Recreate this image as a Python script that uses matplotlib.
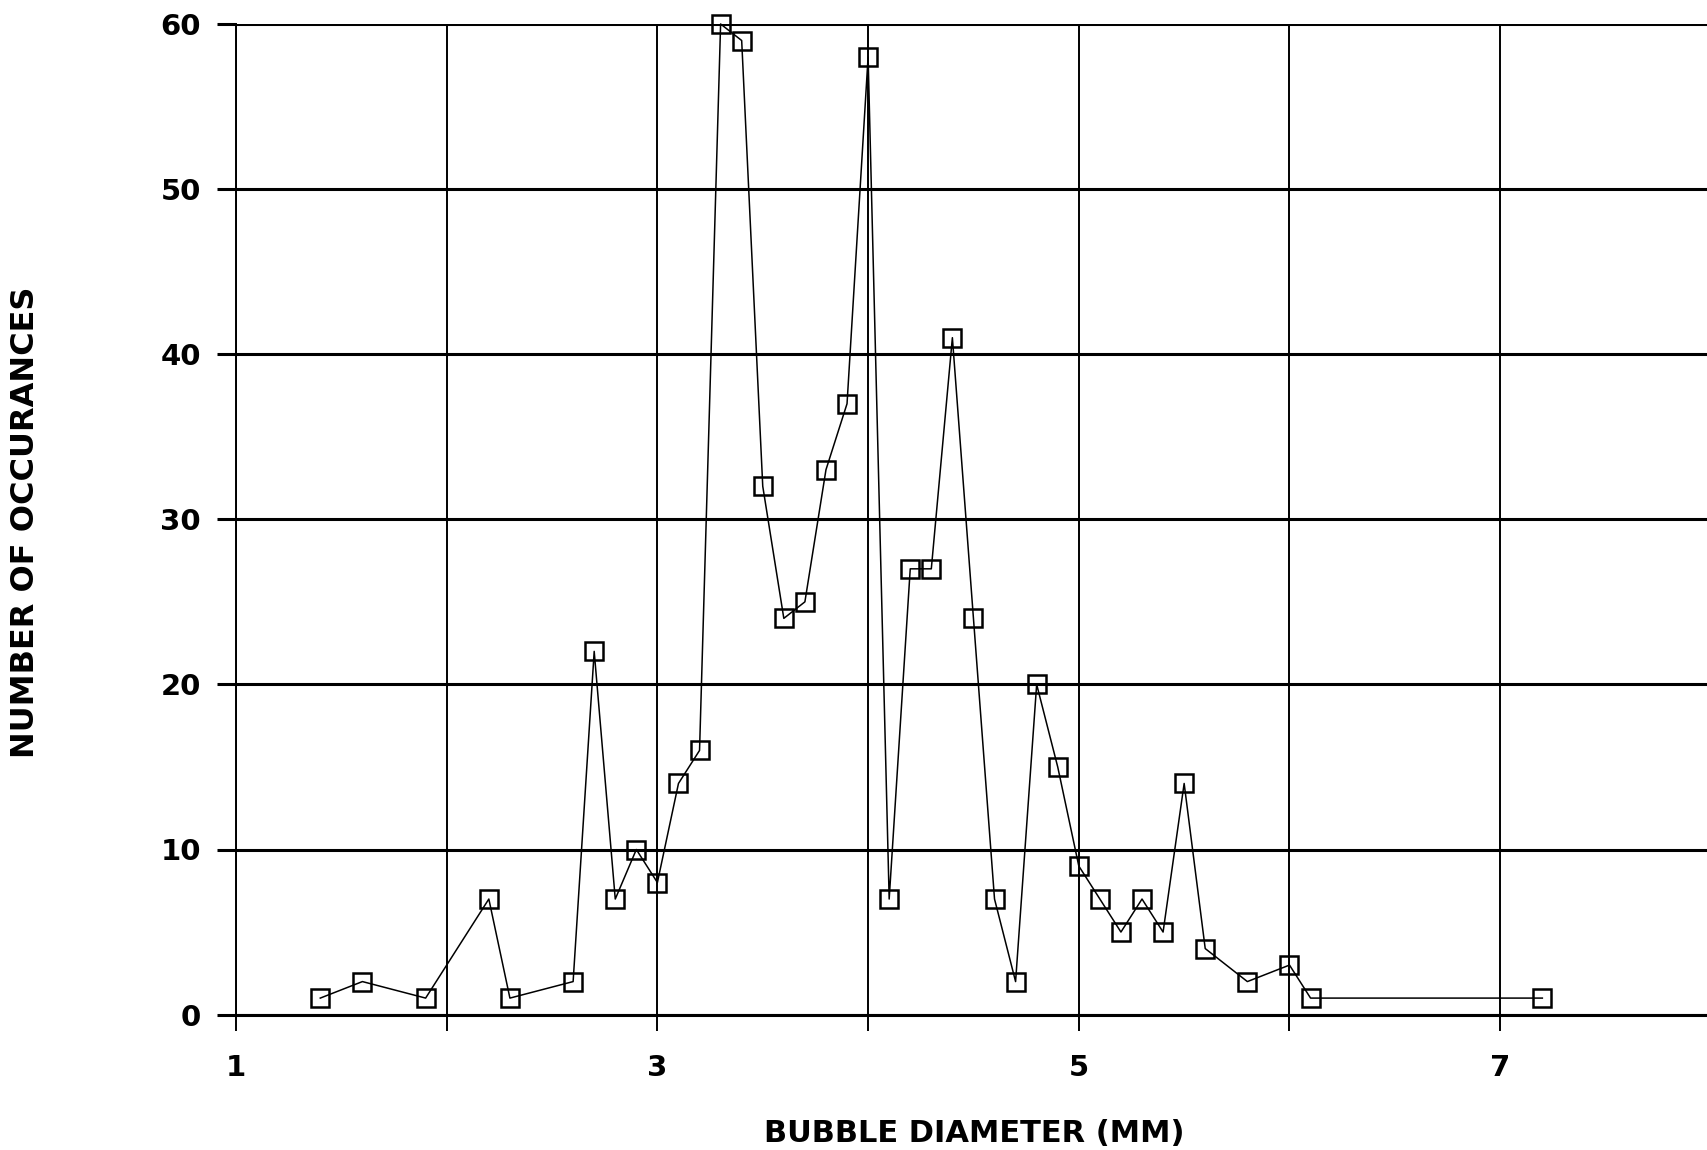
import matplotlib
matplotlib.use("Agg")
import matplotlib.pyplot as plt
from matplotlib.ticker import MultipleLocator, FixedLocator

# Bubble size distribution
diameter_mm = [1.4, 1.6, 1.9, 2.2, 2.3, 2.6, 2.7, 2.8, 2.9, 3.0,
               3.1, 3.2, 3.3, 3.4, 3.5, 3.6, 3.7, 3.8, 3.9, 4.0,
               4.1, 4.2, 4.3, 4.4, 4.5, 4.6, 4.7, 4.8, 4.9, 5.0,
               5.1, 5.2, 5.3, 5.4, 5.5, 5.6, 5.8, 6.0, 6.1, 7.2]
occurrences = [1, 2, 1, 7, 1, 2, 22, 7, 10, 8,
               14, 16, 60, 59, 32, 24, 25, 33, 37, 58,
               7, 27, 27, 41, 24, 7, 2, 20, 15, 9,
               7, 5, 7, 5, 14, 4, 2, 3, 1, 1]

x_tick_values = [1, 3, 5, 7]
y_tick_values = [0, 10, 20, 30, 40, 50, 60]

W, H = 1707, 1150
fig = plt.figure(figsize=(W / 100, H / 100), dpi=100)
left = 236 / W
bottom = 1 - 1014.6 / H
top = 1 - 24 / H
ax = fig.add_axes([left, bottom, 1 - left, top - bottom])

ax.plot(diameter_mm, occurrences, color="black", linewidth=1.1,
        marker="s", markersize=13, markerfacecolor="none",
        markeredgecolor="black", markeredgewidth=1.8, clip_on=False, zorder=3)

ax.set_xlim(1, 1 + (W - 236) / 210.7)
ax.set_ylim(0, 60)

# grid: vertical every 1 mm, horizontal every 10
ax.xaxis.set_major_locator(FixedLocator(x_tick_values))
ax.xaxis.set_minor_locator(MultipleLocator(1))
ax.yaxis.set_major_locator(FixedLocator(y_tick_values))
ax.grid(which="both", axis="x", color="black", linewidth=1.4)
ax.grid(which="major", axis="y", color="black", linewidth=2.2)
ax.set_axisbelow(True)

for s in ["top", "right"]:
    ax.spines[s].set_visible(False)
ax.spines["left"].set_linewidth(1.4)
ax.spines["bottom"].set_linewidth(2.2)

ax.tick_params(axis="x", which="both", direction="out", length=11.5, width=1.4,
               pad=17, labelsize=21)
ax.tick_params(axis="y", which="major", direction="out", length=13.7, width=2.2,
               pad=11.5, labelsize=21)
ax.tick_params(axis="x", which="minor", labelbottom=False)
for lbl in ax.get_xticklabels() + ax.get_yticklabels():
    lbl.set_fontfamily("DejaVu Sans")
    lbl.set_fontweight("bold")

fig.text(974 / W, 1 - 1133 / H, "BUBBLE DIAMETER (MM)", ha="center", va="center",
         fontsize=22, family="DejaVu Sans", fontweight="bold")
fig.text(26 / W, 1 - 522 / H, "NUMBER OF OCCURANCES", ha="center", va="center",
         rotation=90, fontsize=23, family="DejaVu Sans", fontweight="bold")

fig.savefig("out.png", dpi=100, facecolor="white")
